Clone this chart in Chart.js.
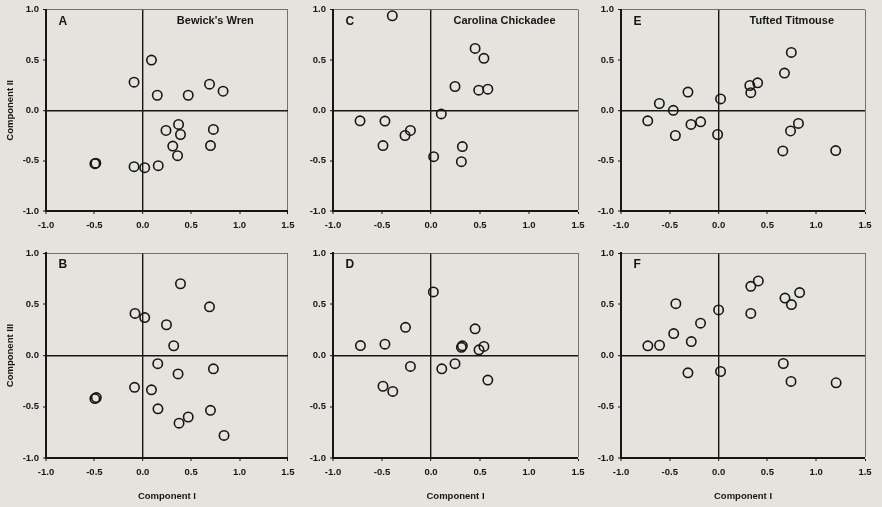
<!DOCTYPE html>
<html>
<head>
<meta charset="utf-8">
<script src="https://cdn.jsdelivr.net/npm/chart.js@4.4.0/dist/chart.umd.min.js"></script>
<style>
body { margin: 0; background: #e5e3de; }
#wrap { position: relative; width: 882px; height: 507px; overflow: hidden; background: #e5e3de; }
canvas { position: absolute; }
</style>
</head>
<body>
<div id="wrap">
  <canvas id="cA" width="300" height="231" style="left:0px;top:0px"></canvas>
  <canvas id="cC" width="300" height="231" style="left:293px;top:0px"></canvas>
  <canvas id="cE" width="300" height="231" style="left:582px;top:0px"></canvas>
  <canvas id="cB" width="300" height="277" style="left:0px;top:230px"></canvas>
  <canvas id="cD" width="300" height="277" style="left:293px;top:230px"></canvas>
  <canvas id="cF" width="300" height="277" style="left:582px;top:230px"></canvas>
</div>
<script>
// axis ranges (Component I on x, Component II / III on y)
const xRange = [-1.0, 1.5];
const yRange = [-1.0, 1.0];
const tickStep = 0.5;

// A - Bewick's Wren, Component I vs II
const panelA_x = [0.09, -0.09, 0.15, 0.47, 0.69, 0.83, 0.37, 0.24, 0.39, 0.73, 0.31, 0.36, 0.70, -0.495, -0.485, -0.09, 0.02, 0.16];
const panelA_y = [0.50, 0.28, 0.15, 0.15, 0.26, 0.19, -0.14, -0.20, -0.24, -0.19, -0.355, -0.45, -0.35, -0.53, -0.525, -0.56, -0.57, -0.55];

// B - Bewick's Wren, Component I vs III
const panelB_x = [0.39, 0.69, -0.08, 0.02, 0.245, 0.32, 0.155, 0.365, 0.73, -0.085, 0.09, -0.495, -0.48, 0.157, 0.375, 0.47, 0.70, 0.84];
const panelB_y = [0.70, 0.475, 0.41, 0.37, 0.30, 0.095, -0.08, -0.18, -0.13, -0.31, -0.335, -0.42, -0.41, -0.52, -0.66, -0.60, -0.535, -0.78];

// C - Carolina Chickadee, Component I vs II
const panelC_x = [-0.395, 0.45, 0.54, 0.245, 0.487, 0.58, 0.105, -0.724, -0.47, -0.21, -0.265, -0.49, 0.027, 0.32, 0.31];
const panelC_y = [0.94, 0.615, 0.517, 0.237, 0.20, 0.21, -0.036, -0.104, -0.107, -0.20, -0.25, -0.35, -0.46, -0.36, -0.51];

// D - Carolina Chickadee, Component I vs III
const panelD_x = [0.024, -0.26, 0.45, -0.72, -0.47, 0.31, 0.32, 0.54, 0.49, -0.21, 0.11, 0.245, 0.58, -0.49, -0.39];
const panelD_y = [0.62, 0.275, 0.26, 0.097, 0.11, 0.08, 0.094, 0.088, 0.055, -0.107, -0.13, -0.08, -0.24, -0.30, -0.35];

// E - Tufted Titmouse, Component I vs II
const panelE_x = [0.745, 0.675, 0.32, 0.40, 0.33, -0.314, -0.607, 0.02, -0.464, -0.726, -0.283, -0.184, -0.443, -0.01, 0.737, 0.818, 0.658, 1.20];
const panelE_y = [0.576, 0.37, 0.247, 0.273, 0.176, 0.182, 0.068, 0.114, 0.0, -0.104, -0.14, -0.114, -0.25, -0.24, -0.205, -0.13, -0.403, -0.40];

// F - Tufted Titmouse, Component I vs III
const panelF_x = [0.407, 0.33, 0.83, 0.68, 0.746, -0.438, 0.0, 0.33, -0.185, -0.46, -0.28, -0.725, -0.605, -0.314, 0.02, 0.663, 0.742, 1.204];
const panelF_y = [0.727, 0.675, 0.614, 0.56, 0.497, 0.506, 0.445, 0.41, 0.315, 0.214, 0.136, 0.094, 0.10, -0.169, -0.156, -0.078, -0.253, -0.266];

const ink = "#161616";
const fontFamily = "'Liberation Sans', Arial, sans-serif";

// panel letter + species name inside the plot area
const panelLabel = {
    id: "panelLabel",
    afterDraw(chart, args, opts) {
        const {ctx, chartArea: a} = chart;
        ctx.save();
        ctx.fillStyle = ink;
        ctx.textBaseline = "middle";
        ctx.font = "bold 12px " + fontFamily;
        ctx.textAlign = "left";
        ctx.fillText(opts.letter, a.left + 12.5, a.top + 12);
        if (opts.title) {
            ctx.font = "bold 11px " + fontFamily;
            ctx.textAlign = "center";
            ctx.fillText(opts.title, a.left + (a.right - a.left) * 0.7, a.top + 11.5);
        }
        ctx.restore();
    }
};

const gridColor = edge => ctx => {
    const v = ctx.tick ? ctx.tick.value : null;
    if (v === 0) return ink;
    if (v === edge) return "#555";
    return "rgba(0,0,0,0)";
};
const gridWidth = edge => ctx => {
    const v = ctx.tick ? ctx.tick.value : null;
    return v === 0 ? 1.4 : (v === edge ? 0.8 : 0);
};

const doPanel = (id, xs, ys, o) => {
    const data = xs.map((x, i) => ({x, y: ys[i]}));
    new Chart(document.getElementById(id), {
        type: "scatter",
        data: {
            datasets: [{
                data,
                pointStyle: "circle",
                pointRadius: 4.7,
                pointBorderWidth: 1.6,
                borderColor: ink,
                backgroundColor: "rgba(0,0,0,0)"
            }]
        },
        options: {
            responsive: false,
            animation: false,
            layout: {padding: {top: o.padTop, right: o.padRight, left: 0, bottom: 0}},
            plugins: {
                legend: {display: false},
                tooltip: {enabled: false},
                panelLabel: {letter: o.letter, title: o.title}
            },
            scales: {
                x: {
                    type: "linear",
                    min: xRange[0], max: xRange[1],
                    ticks: {
                        stepSize: tickStep, color: ink, padding: 5.5, maxRotation: 0, autoSkip: false,
                        font: {family: fontFamily, size: 9.5, weight: "bold"},
                        callback: v => v.toFixed(1)
                    },
                    grid: {color: gridColor(xRange[1]), lineWidth: gridWidth(xRange[1]), tickColor: ink, tickLength: 3, tickWidth: 1},
                    border: {display: true, color: ink, width: 2},
                    title: {
                        display: !!o.xTitle, text: o.xTitle || "", color: ink,
                        font: {family: fontFamily, size: 9.5, weight: "bold"},
                        padding: {top: 4, bottom: 5}
                    },
                    afterFit: s => { s.height = o.xHeight; }
                },
                y: {
                    type: "linear",
                    min: yRange[0], max: yRange[1],
                    ticks: {
                        stepSize: tickStep, color: ink, padding: 4,
                        font: {family: fontFamily, size: 9.5, weight: "bold"},
                        callback: v => v.toFixed(1)
                    },
                    grid: {color: gridColor(yRange[1]), lineWidth: gridWidth(yRange[1]), tickColor: ink, tickLength: 3, tickWidth: 1},
                    border: {display: true, color: ink, width: 2},
                    title: {
                        display: !!o.yTitle, text: o.yTitle || "", color: ink,
                        font: {family: fontFamily, size: 9.5, weight: "bold"},
                        padding: {top: 5, bottom: 0}
                    },
                    afterFit: s => { s.width = o.yWidth; }
                }
            }
        },
        plugins: [panelLabel]
    });
};

doPanel("cA", panelA_x, panelA_y, {letter: "A", title: "Bewick's Wren", yTitle: "Component II", yWidth: 46, padRight: 9, padTop: 6, xHeight: 20});
doPanel("cC", panelC_x, panelC_y, {letter: "C", title: "Carolina Chickadee", yWidth: 40, padRight: 15, padTop: 6, xHeight: 20});
doPanel("cE", panelE_x, panelE_y, {letter: "E", title: "Tufted Titmouse", yWidth: 39, padRight: 17, padTop: 6, xHeight: 20});
doPanel("cB", panelB_x, panelB_y, {letter: "B", yTitle: "Component III", xTitle: "Component I", yWidth: 46, padRight: 9, padTop: 23, xHeight: 49});
doPanel("cD", panelD_x, panelD_y, {letter: "D", xTitle: "Component I", yWidth: 40, padRight: 15, padTop: 23, xHeight: 49});
doPanel("cF", panelF_x, panelF_y, {letter: "F", xTitle: "Component I", yWidth: 39, padRight: 17, padTop: 23, xHeight: 49});
</script>
</body>
</html>
